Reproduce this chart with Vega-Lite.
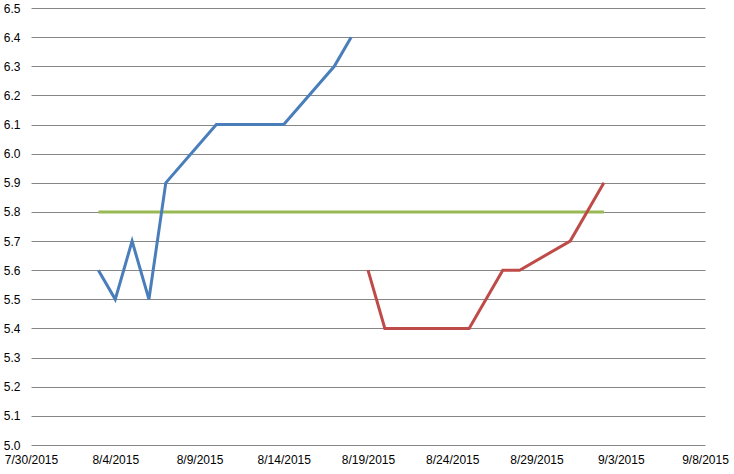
{
  "$schema": "https://vega.github.io/schema/vega-lite/v6.json",
  "width": 674,
  "height": 437,
  "autosize": "none",
  "padding": {"left": 31, "top": 8, "right": 29, "bottom": 29},
  "background": "white",
  "config": {"view": {"stroke": null}, "font": "Liberation Sans"},
  "data": {
    "values": [
      {"series": "Target", "date": "2015-08-03", "value": 5.8},
      {"series": "Target", "date": "2015-09-02", "value": 5.8},
      {"series": "Series 1", "date": "2015-08-03", "value": 5.6},
      {"series": "Series 1", "date": "2015-08-04", "value": 5.5},
      {"series": "Series 1", "date": "2015-08-05", "value": 5.7},
      {"series": "Series 1", "date": "2015-08-06", "value": 5.5},
      {"series": "Series 1", "date": "2015-08-07", "value": 5.9},
      {"series": "Series 1", "date": "2015-08-10", "value": 6.1},
      {"series": "Series 1", "date": "2015-08-14", "value": 6.1},
      {"series": "Series 1", "date": "2015-08-17", "value": 6.3},
      {"series": "Series 1", "date": "2015-08-18", "value": 6.4},
      {"series": "Series 2", "date": "2015-08-19", "value": 5.6},
      {"series": "Series 2", "date": "2015-08-20", "value": 5.4},
      {"series": "Series 2", "date": "2015-08-25", "value": 5.4},
      {"series": "Series 2", "date": "2015-08-27", "value": 5.6},
      {"series": "Series 2", "date": "2015-08-28", "value": 5.6},
      {"series": "Series 2", "date": "2015-08-31", "value": 5.7},
      {"series": "Series 2", "date": "2015-09-02", "value": 5.9}
    ]
  },
  "mark": {"type": "line", "strokeWidth": 3, "strokeCap": "butt", "strokeJoin": "miter"},
  "encoding": {
    "x": {
      "field": "date",
      "type": "temporal",
      "timeUnit": "utcyearmonthdate",
      "scale": {
        "type": "utc",
        "domain": [
          {"year": 2015, "month": 7, "date": 30, "utc": true},
          {"year": 2015, "month": 9, "date": 8, "utc": true}
        ]
      },
      "axis": {
        "title": null,
        "grid": false,
        "domain": false,
        "ticks": false,
        "format": "%-m/%-d/%Y",
        "labelFontSize": 12,
        "labelColor": "#000000",
        "labelPadding": 9,
        "labelOverlap": false,
        "labelFlush": false,
        "values": [
          {"year": 2015, "month": 7, "date": 30, "utc": true},
          {"year": 2015, "month": 8, "date": 4, "utc": true},
          {"year": 2015, "month": 8, "date": 9, "utc": true},
          {"year": 2015, "month": 8, "date": 14, "utc": true},
          {"year": 2015, "month": 8, "date": 19, "utc": true},
          {"year": 2015, "month": 8, "date": 24, "utc": true},
          {"year": 2015, "month": 8, "date": 29, "utc": true},
          {"year": 2015, "month": 9, "date": 3, "utc": true},
          {"year": 2015, "month": 9, "date": 8, "utc": true}
        ]
      }
    },
    "y": {
      "field": "value",
      "type": "quantitative",
      "scale": {"domain": [5.0, 6.5], "nice": false, "zero": false},
      "axis": {
        "title": null,
        "domain": false,
        "ticks": false,
        "format": ".1f",
        "values": [5.0, 5.1, 5.2, 5.3, 5.4, 5.5, 5.6, 5.7, 5.8, 5.9, 6.0, 6.1, 6.2, 6.3, 6.4, 6.5],
        "gridColor": "#868686",
        "gridWidth": 1,
        "gridOpacity": 1,
        "labelFontSize": 12,
        "labelColor": "#000000",
        "labelPadding": 11
      }
    },
    "color": {
      "field": "series",
      "type": "nominal",
      "sort": ["Target", "Series 1", "Series 2"],
      "scale": {"domain": ["Target", "Series 1", "Series 2"], "range": ["#98B954", "#4A7EBB", "#BE4B48"]},
      "legend": null
    }
  }
}
